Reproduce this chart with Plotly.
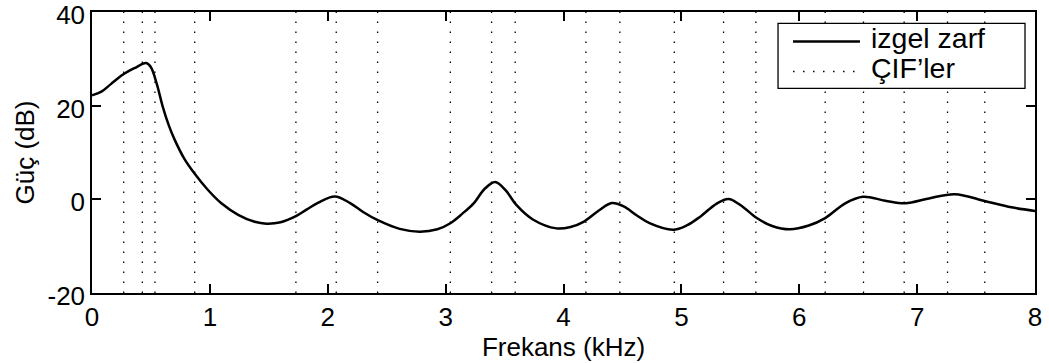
import plotly.graph_objects as go

# Spectral envelope (kHz, dB)
freq_khz = [0.00, 0.08, 0.16, 0.26, 0.36, 0.46, 0.50, 0.55, 0.60, 0.65, 0.70, 0.78,
            0.87, 0.98, 1.10, 1.24, 1.38, 1.48, 1.60, 1.73, 1.82, 1.92, 2.06, 2.19,
            2.30, 2.42, 2.61, 2.78, 2.93, 3.04, 3.14, 3.24, 3.33, 3.42, 3.51, 3.60,
            3.74, 3.94, 4.06, 4.17, 4.30, 4.41, 4.51, 4.62, 4.73, 4.93, 5.05, 5.16,
            5.30, 5.40, 5.50, 5.64, 5.77, 5.92, 6.08, 6.22, 6.39, 6.54, 6.73, 6.90,
            7.10, 7.32, 7.58, 7.80, 8.00]
power_db = [22.2, 23.0, 24.6, 26.6, 28.0, 29.1, 28.2, 24.6, 19.8, 15.9, 12.8, 8.8,
            5.5, 2.1, -0.9, -3.3, -4.8, -5.2, -4.9, -3.6, -2.2, -0.7, 0.6, -0.8,
            -2.7, -4.4, -6.3, -6.9, -6.4, -5.1, -3.1, -0.8, 2.2, 3.7, 1.9, -1.2,
            -4.3, -6.2, -5.9, -4.8, -2.4, -0.8, -1.5, -3.4, -5.1, -6.5, -5.5, -3.7,
            -0.9, 0.05, -1.2, -4.0, -5.7, -6.4, -5.6, -4.0, -0.85, 0.55, -0.3, -0.85,
            0.2, 1.1, -0.4, -1.7, -2.5]

# Line spectral frequencies (kHz)
lsf_khz = [0.269, 0.427, 0.534, 0.871, 1.730, 2.072, 2.423, 3.04, 3.39, 3.59, 4.19,
           4.478, 4.94, 5.358, 5.632, 6.22, 6.545, 6.89, 7.258, 7.574]

x_ticks = [0, 1, 2, 3, 4, 5, 6, 7, 8]
y_ticks = [-20, 0, 20, 40]
y_range = [-20, 40]
legend_names = ["izgel zarf", "ÇIF’ler"]

FONT = "Liberation Sans, Arial, Helvetica, sans-serif"
DOT = "1.5px,8.5px"

lx, ly = [], []
for f in lsf_khz:
    lx += [f, f, None]
    ly += [y_range[0], y_range[1], None]

fig = go.Figure()
fig.add_trace(go.Scatter(x=lx, y=ly, mode="lines", name=legend_names[1],
                         line=dict(color="black", width=1.3, dash=DOT),
                         hoverinfo="skip", showlegend=False))
fig.add_trace(go.Scatter(x=freq_khz, y=power_db, mode="lines", name=legend_names[0],
                         line=dict(color="black", width=2.5, shape="spline", smoothing=1.0),
                         showlegend=False))

axis_common = dict(showline=True, linecolor="black", linewidth=1.5, mirror="ticks",
                   ticks="inside", ticklen=9, tickwidth=1.5, tickcolor="black",
                   showgrid=False, zeroline=False, ticklabeloverflow="allow",
                   automargin=True,
                   tickfont=dict(family=FONT, size=26, color="black"))

# Legend box drawn in paper coordinates (MATLAB-style legend)
box = dict(x0=0.7275, x1=0.9894, y0=0.7285, y1=0.9598)
shapes = [
    dict(type="rect", xref="paper", yref="paper", layer="above",
         fillcolor="white", line=dict(color="black", width=1.3), **box),
    dict(type="line", xref="paper", yref="paper", layer="above",
         x0=0.7434, x1=0.8144, y0=0.895, y1=0.895,
         line=dict(color="black", width=2.5)),
    dict(type="line", xref="paper", yref="paper", layer="above",
         x0=0.7434, x1=0.8144, y0=0.7883, y1=0.7883,
         line=dict(color="black", width=1.3, dash=DOT)),
]
annotations = [
    dict(text=legend_names[0], xref="paper", yref="paper", x=0.824, y=0.9085,
         xanchor="left", yanchor="middle", showarrow=False,
         font=dict(family=FONT, size=28.5, color="black")),
    dict(text=legend_names[1], xref="paper", yref="paper", x=0.824, y=0.7996,
         xanchor="left", yanchor="middle", showarrow=False,
         font=dict(family=FONT, size=28.5, color="black")),
]

fig.update_layout(
    width=1049, height=363,
    margin=dict(l=92, r=14, t=12, b=70, autoexpand=False),
    paper_bgcolor="white", plot_bgcolor="white",
    font=dict(family=FONT, size=26, color="black"),
    showlegend=False,
    shapes=shapes,
    annotations=annotations,
    xaxis=dict(range=[0, 8], tickvals=x_ticks, ticktext=[str(v) for v in x_ticks],
               title=dict(text="Frekans (kHz)", font=dict(family=FONT, size=26), standoff=0),
               **axis_common),
    yaxis=dict(range=y_range, tickvals=y_ticks, ticktext=[str(v) for v in y_ticks],
               ticklabelshift=3,
               title=dict(text="Güç (dB)", font=dict(family=FONT, size=26), standoff=5),
               **axis_common),
)

fig.write_html("out.html")
